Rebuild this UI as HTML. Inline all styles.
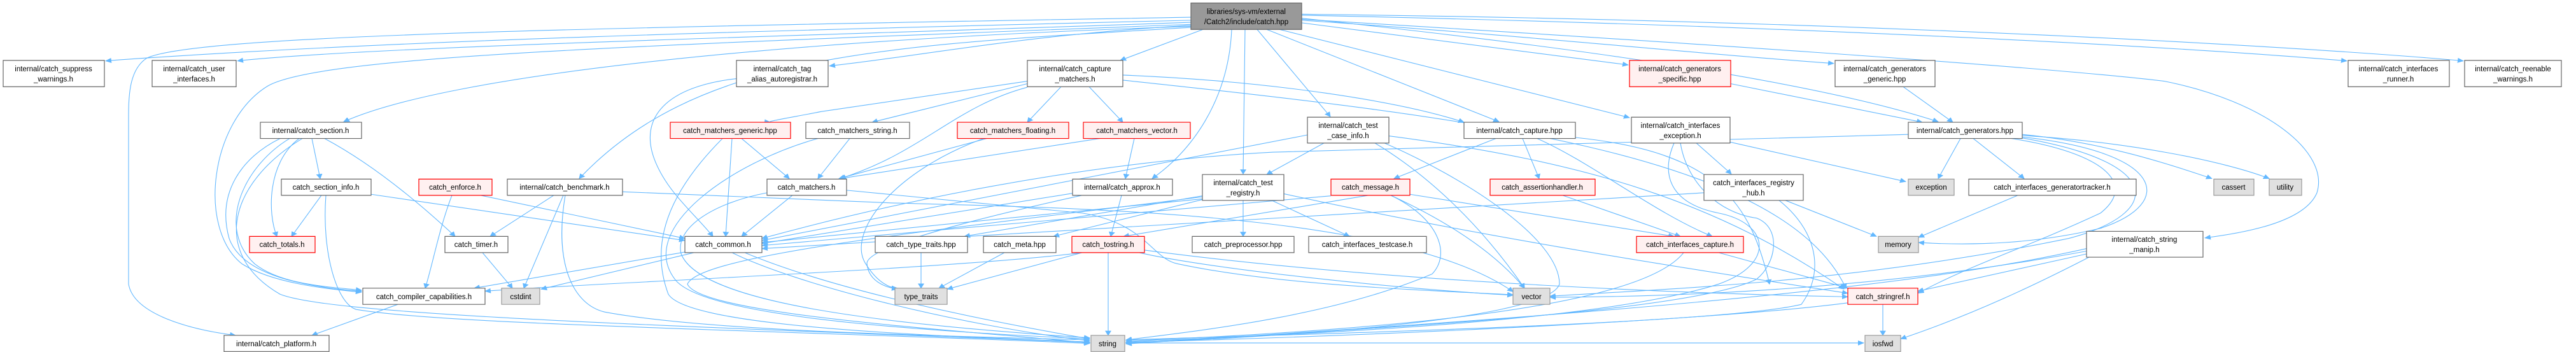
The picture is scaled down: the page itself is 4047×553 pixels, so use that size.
<!DOCTYPE html>
<html><head><meta charset="utf-8"><style>
html,body{margin:0;padding:0;background:#fff}
svg{display:block}
text{font-family:"Liberation Sans",Arial,sans-serif;font-size:11.5px;fill:#000;text-anchor:middle}
.e path{fill:none;stroke:#63b8ff;stroke-width:1.1;vector-effect:non-scaling-stroke}
rect{vector-effect:non-scaling-stroke}
.n{fill:#fff;stroke:#666;stroke-width:1.2}
.r{fill:#fff0f0;stroke:#f00;stroke-width:1.2}
.g{fill:#e0e0e0;stroke:#999;stroke-width:1.2}
.m{fill:#999;stroke:#666;stroke-width:1.2}
</style></head><body>
<svg width="4047" height="553" viewBox="0 0 4047 553" xmlns="http://www.w3.org/2000/svg">
<defs><marker id="a" viewBox="0 0 10 10" refX="9" refY="5" markerWidth="10" markerHeight="10" orient="auto" markerUnits="userSpaceOnUse"><path d="M0,0 L10,5 L0,10 z" fill="#63b8ff"/></marker></defs>
<g transform="scale(1,0.797)">
<g class="e" marker-end="url(#a)">
<path d="M1871,40 C1200,60 600,80 166,120"/>
<path d="M1871,44 C1300,70 600,90 373,120"/>
<path d="M1871,34 C900,55 300,70 230,115 C200,140 202,200 202,250 L202,560 C210,620 300,650 370,661"/>
<path d="M1871,48 C1000,90 500,110 420,170 C330,240 310,450 380,520 C430,560 520,570 568,576"/>
<path d="M1871,52 C1200,80 700,150 540,240"/>
<path d="M1871,54 C1400,90 1100,100 910,352"/>
<path d="M1871,50 C1600,70 1450,110 1303,130"/>
<path d="M1890,58 L1760,119"/>
<path d="M1935,58 C1930,200 1870,300 1810,352"/>
<path d="M1956,58 L1953,343"/>
<path d="M1975,58 L2090,230"/>
<path d="M1990,58 L2355,240"/>
<path d="M2010,58 L2560,232"/>
<path d="M2045,45 L2558,128"/>
<path d="M2045,40 C2400,70 2700,110 2881,125"/>
<path d="M2045,36 C2300,70 2800,140 3045,240"/>
<path d="M2045,30 C2800,50 3400,90 3687,120"/>
<path d="M2045,28 C2900,40 3600,90 3870,120"/>
<path d="M2045,38 C2600,80 3200,130 3400,160 C3560,200 3660,300 3640,380 C3620,440 3520,460 3464,469"/>
<path d="M490,273 L503,352"/>
<path d="M470,273 C420,320 420,420 435,466"/>
<path d="M455,273 C380,330 340,450 400,520 C440,560 510,565 568,572"/>
<path d="M440,273 C380,310 340,380 360,470 C380,540 470,565 568,574"/>
<path d="M510,273 C580,320 650,390 715,466"/>
<path d="M475,273 C360,360 330,500 440,580 C520,620 1000,640 1712,675"/>
<path d="M505,385 L458,466"/>
<path d="M583,383 L1076,474"/>
<path d="M512,385 C505,500 530,600 560,610 C700,640 1200,650 1712,677"/>
<path d="M710,385 C690,450 680,520 668,568"/>
<path d="M755,385 L1076,470"/>
<path d="M870,385 L770,466"/>
<path d="M885,385 L823,568"/>
<path d="M888,385 C870,520 900,600 950,615 C1100,650 1400,660 1712,670"/>
<path d="M978,378 L1400,400 C1700,410 2200,420 2377,575"/>
<path d="M758,498 L805,568"/>
<path d="M1080,496 L745,568"/>
<path d="M1090,498 L850,570"/>
<path d="M1150,498 C1250,560 1500,640 1712,672"/>
<path d="M1170,498 C1250,540 1400,600 1712,668"/>
<path d="M1157,155 C1050,170 1000,230 1030,320 C1050,380 1090,420 1120,466"/>
<path d="M1150,273 L1140,466"/>
<path d="M1165,273 L1240,352"/>
<path d="M1135,273 C1050,380 1020,480 1050,580 C1080,640 1400,660 1712,674"/>
<path d="M1335,273 L1285,352"/>
<path d="M1285,273 C1150,320 1000,450 1060,550 C1100,620 1400,650 1712,668"/>
<path d="M1245,385 L1165,466"/>
<path d="M1205,380 C1120,400 1060,450 1070,500 C1100,600 1400,640 1712,666"/>
<path d="M1330,375 L1700,420 C1800,440 1810,510 1850,520 C2000,560 2200,570 2377,581"/>
<path d="M1614,165 L1370,241"/>
<path d="M1667,171 L1614,241"/>
<path d="M1711,171 L1764,241"/>
<path d="M1614,160 L1290,220 C1250,230 1200,240 1210,241"/>
<path d="M1614,172 C1500,210 1450,300 1320,352"/>
<path d="M1764,148 C2000,160 2200,200 2300,241"/>
<path d="M1764,158 C2300,230 2800,300 2900,568"/>
<path d="M1550,273 L1318,352"/>
<path d="M1545,273 C1400,340 1330,460 1360,520 C1380,560 1400,568 1410,568"/>
<path d="M1728,273 L1320,352"/>
<path d="M1782,273 L1768,352"/>
<path d="M1762,385 L1745,466"/>
<path d="M1685,381 L1197,480"/>
<path d="M1700,385 C1500,440 1360,490 1362,520 C1365,560 1400,568 1410,570"/>
<path d="M1741,498 L1741,661"/>
<path d="M1700,498 L1488,570"/>
<path d="M1700,498 C1500,530 900,560 762,574"/>
<path d="M1790,498 C1900,530 2200,570 2377,582"/>
<path d="M1798,493 C2200,560 2700,580 2903,585"/>
<path d="M1447,498 L1447,568"/>
<path d="M1578,498 L1475,568"/>
<path d="M1953,395 L1953,466"/>
<path d="M1998,395 L2120,466"/>
<path d="M1889,386 L1515,466"/>
<path d="M1900,390 L1655,466"/>
<path d="M1889,392 L1197,478"/>
<path d="M2017,382 C2300,460 2600,520 2903,578"/>
<path d="M1889,388 C1500,450 1100,500 1080,560 C1100,620 1500,650 1712,676"/>
<path d="M2080,282 L1990,344"/>
<path d="M2160,282 C2250,350 2330,450 2395,568"/>
<path d="M2175,282 C2300,350 2450,470 2450,560 C2430,640 1900,670 1769,676"/>
<path d="M2054,266 L1197,474"/>
<path d="M2182,268 C2500,320 2700,400 2897,570"/>
<path d="M2350,273 L2190,352"/>
<path d="M2392,273 L2418,352"/>
<path d="M2415,273 C2500,320 2600,420 2690,466"/>
<path d="M2475,271 C2700,300 2750,400 2780,560"/>
<path d="M2091,386 L1197,484"/>
<path d="M2150,385 L1765,466"/>
<path d="M2185,385 C2260,430 2280,500 2250,540 C2100,620 1900,650 1769,670"/>
<path d="M2185,385 C2280,440 2350,500 2395,568"/>
<path d="M2215,383 L2630,466"/>
<path d="M2455,385 L2640,466"/>
<path d="M2700,498 L2903,568"/>
<path d="M2645,498 C2600,570 2400,640 1769,672"/>
<path d="M2665,282 L2720,343"/>
<path d="M2630,282 C2610,340 2620,400 2700,420 C2780,440 2790,520 2700,560 C2500,640 2000,660 1769,674"/>
<path d="M2640,282 C2650,360 2700,420 2760,430 C2800,450 2790,520 2760,550 C2650,620 2100,650 1769,678"/>
<path d="M2718,280 L2994,358"/>
<path d="M2805,395 L2948,466"/>
<path d="M2795,395 C2850,450 2870,530 2830,600 C2700,640 2000,660 1769,670"/>
<path d="M2677,380 L1197,490"/>
<path d="M2719,165 L3020,241"/>
<path d="M2990,171 L3068,241"/>
<path d="M3080,273 L3045,352"/>
<path d="M3100,273 L3180,352"/>
<path d="M3177,265 C3300,280 3400,320 3475,352"/>
<path d="M3177,267 C3350,280 3500,320 3565,352"/>
<path d="M3177,270 C3400,300 3420,400 3300,450 C3200,480 3100,485 3014,478"/>
<path d="M2998,265 L2000,300 C1700,320 1400,400 1197,470"/>
<path d="M3160,273 C3300,300 3360,360 3300,420 C3180,490 3100,520 3013,578"/>
<path d="M3177,272 C3400,320 3400,420 3250,470 C2900,560 2600,570 2435,584"/>
<path d="M3170,385 L3014,468"/>
<path d="M3280,500 L3013,574"/>
<path d="M3285,505 C3200,560 3100,620 2986,668"/>
<path d="M3278,490 C3100,540 2800,600 1769,677"/>
<path d="M3278,495 C3000,560 2700,585 2435,586"/>
<path d="M2958,600 L2958,661"/>
<path d="M2903,597 C2700,630 2200,660 1769,675"/>
<path d="M1769,676 L2928,676"/>
<path d="M625,600 L490,661"/>
</g>
<rect class="m" x="1871" y="6" width="174" height="52"/>
<rect class="n" x="5" y="119" width="159" height="52"/>
<rect class="n" x="239" y="119" width="132" height="52"/>
<rect class="n" x="1157" y="119" width="144" height="52"/>
<rect class="n" x="1614" y="119" width="150" height="52"/>
<rect class="r" x="2560" y="119" width="159" height="52"/>
<rect class="n" x="2883" y="119" width="157" height="52"/>
<rect class="n" x="3689" y="119" width="159" height="52"/>
<rect class="n" x="3872" y="119" width="152" height="52"/>
<rect class="n" x="409" y="241" width="159" height="32"/>
<rect class="r" x="1053" y="241" width="189" height="32"/>
<rect class="n" x="1266" y="241" width="163" height="32"/>
<rect class="r" x="1504" y="241" width="175" height="32"/>
<rect class="r" x="1702" y="241" width="168" height="32"/>
<rect class="n" x="2054" y="231" width="128" height="51"/>
<rect class="n" x="2300" y="241" width="175" height="32"/>
<rect class="n" x="2563" y="231" width="155" height="51"/>
<rect class="n" x="2998" y="241" width="179" height="32"/>
<rect class="n" x="442" y="353" width="141" height="32"/>
<rect class="r" x="658" y="353" width="115" height="32"/>
<rect class="n" x="797" y="353" width="181" height="32"/>
<rect class="n" x="1205" y="353" width="125" height="32"/>
<rect class="n" x="1685" y="353" width="157" height="32"/>
<rect class="n" x="1889" y="344" width="128" height="51"/>
<rect class="r" x="2091" y="353" width="124" height="32"/>
<rect class="r" x="2341" y="353" width="165" height="32"/>
<rect class="n" x="2677" y="344" width="156" height="51"/>
<rect class="g" x="2998" y="353" width="72" height="32"/>
<rect class="n" x="3093" y="353" width="263" height="32"/>
<rect class="g" x="3478" y="353" width="63" height="32"/>
<rect class="g" x="3565" y="353" width="51" height="32"/>
<rect class="r" x="392" y="466" width="103" height="32"/>
<rect class="n" x="699" y="466" width="99" height="32"/>
<rect class="n" x="1076" y="466" width="121" height="32"/>
<rect class="n" x="1375" y="466" width="145" height="32"/>
<rect class="n" x="1545" y="466" width="114" height="32"/>
<rect class="r" x="1684" y="466" width="114" height="32"/>
<rect class="n" x="1873" y="466" width="160" height="32"/>
<rect class="n" x="2056" y="466" width="185" height="32"/>
<rect class="r" x="2571" y="466" width="168" height="32"/>
<rect class="g" x="2951" y="466" width="63" height="32"/>
<rect class="n" x="3278" y="456" width="183" height="51"/>
<rect class="n" x="570" y="568" width="192" height="32"/>
<rect class="g" x="788" y="568" width="60" height="32"/>
<rect class="g" x="1406" y="568" width="82" height="32"/>
<rect class="g" x="2377" y="568" width="58" height="32"/>
<rect class="r" x="2903" y="568" width="110" height="32"/>
<rect class="n" x="352" y="661" width="165" height="32"/>
<rect class="g" x="1714" y="661" width="53" height="32"/>
<rect class="g" x="2930" y="661" width="56" height="32"/>
</g>
<g>
<text x="1958" y="22">libraries/sys-vm/external</text><text x="1958" y="38">/Catch2/include/catch.hpp</text>
<text x="84" y="112">internal/catch_suppress</text><text x="84" y="128">_warnings.h</text>
<text x="305" y="112">internal/catch_user</text><text x="305" y="128">_interfaces.h</text>
<text x="1229" y="112">internal/catch_tag</text><text x="1229" y="128">_alias_autoregistrar.h</text>
<text x="1689" y="112">internal/catch_capture</text><text x="1689" y="128">_matchers.h</text>
<text x="2639" y="112">internal/catch_generators</text><text x="2639" y="128">_specific.hpp</text>
<text x="2961" y="112">internal/catch_generators</text><text x="2961" y="128">_generic.hpp</text>
<text x="3768" y="112">internal/catch_interfaces</text><text x="3768" y="128">_runner.h</text>
<text x="3948" y="112">internal/catch_reenable</text><text x="3948" y="128">_warnings.h</text>
<text x="488" y="209">internal/catch_section.h</text>
<text x="1147" y="209">catch_matchers_generic.hpp</text>
<text x="1347" y="209">catch_matchers_string.h</text>
<text x="1591" y="209">catch_matchers_floating.h</text>
<text x="1786" y="209">catch_matchers_vector.h</text>
<text x="2118" y="201">internal/catch_test</text><text x="2118" y="217">_case_info.h</text>
<text x="2387" y="209">internal/catch_capture.hpp</text>
<text x="2640" y="201">internal/catch_interfaces</text><text x="2640" y="217">_exception.h</text>
<text x="3087" y="209">internal/catch_generators.hpp</text>
<text x="512" y="298">catch_section_info.h</text>
<text x="715" y="298">catch_enforce.h</text>
<text x="887" y="298">internal/catch_benchmark.h</text>
<text x="1267" y="298">catch_matchers.h</text>
<text x="1763" y="298">internal/catch_approx.h</text>
<text x="1953" y="291">internal/catch_test</text><text x="1953" y="307">_registry.h</text>
<text x="2153" y="298">catch_message.h</text>
<text x="2423" y="298">catch_assertionhandler.h</text>
<text x="2755" y="291">catch_interfaces_registry</text><text x="2755" y="307">_hub.h</text>
<text x="3034" y="298">exception</text>
<text x="3224" y="298">catch_interfaces_generatortracker.h</text>
<text x="3509" y="298">cassert</text>
<text x="3590" y="298">utility</text>
<text x="443" y="388">catch_totals.h</text>
<text x="748" y="388">catch_timer.h</text>
<text x="1136" y="388">catch_common.h</text>
<text x="1447" y="388">catch_type_traits.hpp</text>
<text x="1602" y="388">catch_meta.hpp</text>
<text x="1741" y="388">catch_tostring.h</text>
<text x="1953" y="388">catch_preprocessor.hpp</text>
<text x="2148" y="388">catch_interfaces_testcase.h</text>
<text x="2655" y="388">catch_interfaces_capture.h</text>
<text x="2982" y="388">memory</text>
<text x="3369" y="380">internal/catch_string</text><text x="3369" y="396">_manip.h</text>
<text x="666" y="470">catch_compiler_capabilities.h</text>
<text x="818" y="470">cstdint</text>
<text x="1447" y="470">type_traits</text>
<text x="2406" y="470">vector</text>
<text x="2958" y="470">catch_stringref.h</text>
<text x="434" y="544">internal/catch_platform.h</text>
<text x="1740" y="544">string</text>
<text x="2958" y="544">iosfwd</text>
</g>
</svg>
</body></html>
